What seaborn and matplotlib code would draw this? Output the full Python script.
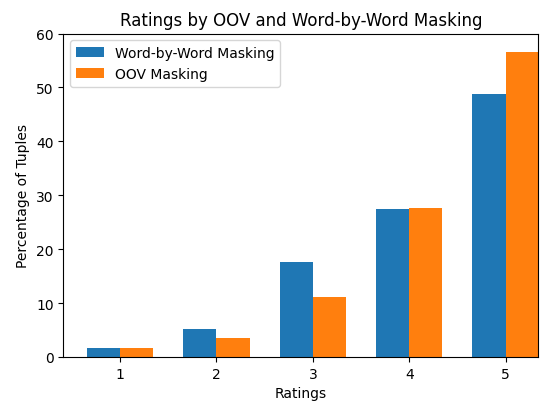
import pandas as pd
import matplotlib
matplotlib.use('Agg')
import matplotlib.pyplot as plt
import seaborn as sns

# Values
ratings = ['1', '2', '3', '4', '5']
word_by_word = [1.67, 5.25, 17.7, 27.4, 48.7]
oov = [1.67, 3.58, 11.06, 27.6, 56.6]
series_names = ['Word-by-Word Masking', 'OOV Masking']
colors = ['#1f77b4', '#ff7f0e']

df = pd.DataFrame({
    'Ratings': ratings * 2,
    'Percentage': word_by_word + oov,
    'Series': [series_names[0]] * len(ratings) + [series_names[1]] * len(ratings),
})

plt.rcParams['font.family'] = ['DejaVu Sans']
fig = plt.figure(figsize=(5.6, 4.06), dpi=100)
ax = fig.add_axes([63.3 / 560, 48 / 406, 475 / 560, 323.5 / 406])

sns.barplot(data=df, x='Ratings', y='Percentage', hue='Series', order=ratings,
            hue_order=series_names, palette=colors, saturation=1, width=0.69,
            ax=ax, errorbar=None)

ax.set_xlim(-0.59, 4.34)
ax.set_ylim(0, 60)
ax.set_yticks(range(0, 61, 10))
ax.set_title('Ratings by OOV and Word-by-Word Masking', fontsize=12)
ax.set_xlabel('Ratings')
ax.set_ylabel('Percentage of Tuples')
ax.legend(loc='upper left', title=None)

fig.savefig('out.png', dpi=100)
